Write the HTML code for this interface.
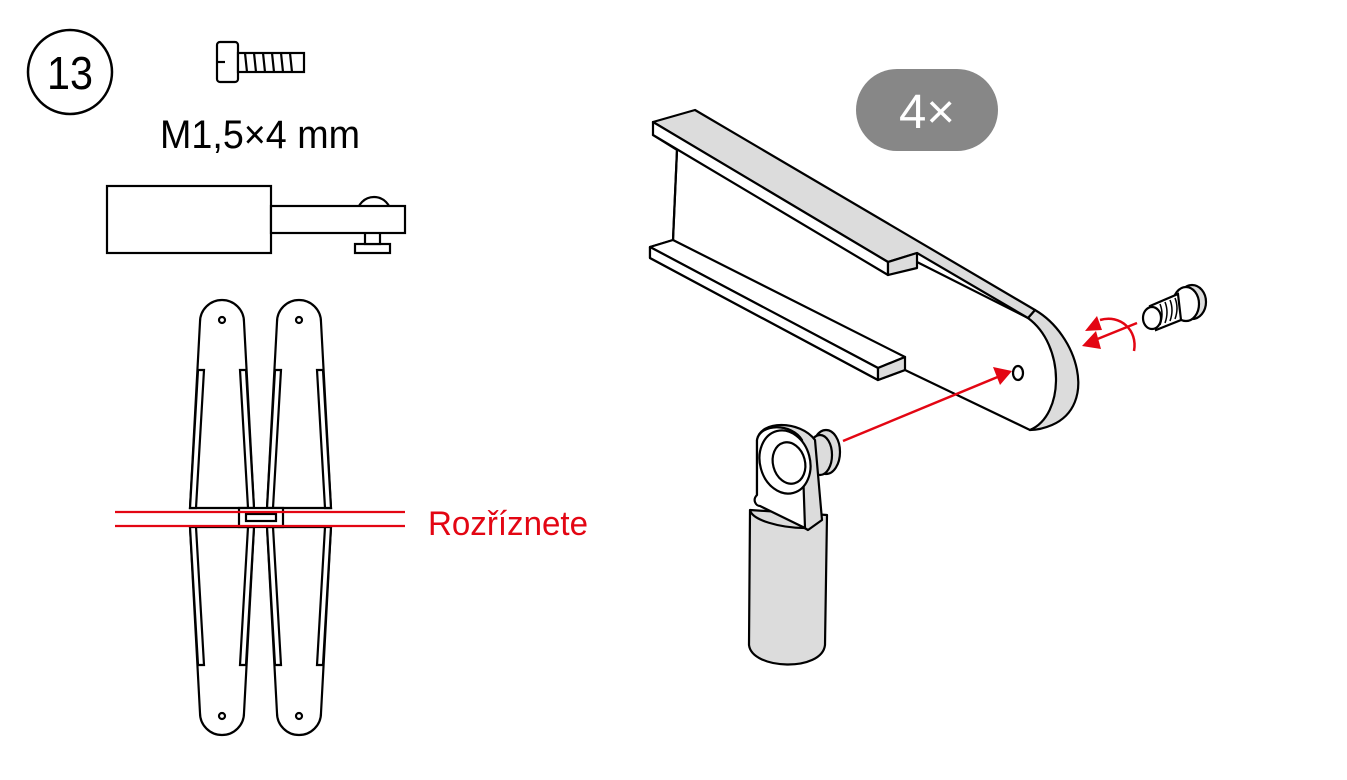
<!DOCTYPE html>
<html><head><meta charset="utf-8"><style>
html,body{margin:0;padding:0;background:#fff;}
svg{display:block;}
text{font-family:"Liberation Sans",sans-serif;}
</style></head><body>
<svg width="1347" height="780" viewBox="0 0 1347 780" xmlns="http://www.w3.org/2000/svg">
<g fill="none" stroke="#000" stroke-width="2.5" stroke-linejoin="round">
<circle cx="70" cy="72" r="42"/>
</g>
<text x="70" y="89" font-size="46" text-anchor="middle" textLength="46" lengthAdjust="spacingAndGlyphs">13</text>
<g fill="#fff" stroke="#000" stroke-width="2.2">
<rect x="217" y="42" width="21" height="40" rx="3"/>
<line x1="217" y1="62" x2="225" y2="62"/>
<rect x="238" y="53" width="66" height="19"/>
<path d="M245,53 L247,72 M254,53 L256,72 M263,53 L265,72 M272,53 L274,72 M281,53 L283,72 M290,53 L292,72" />
</g>
<text x="160" y="148" font-size="40" textLength="200" lengthAdjust="spacingAndGlyphs">M1,5×4 mm</text>
<g fill="#fff" stroke="#000" stroke-width="2.2">
<circle cx="374" cy="214" r="17"/>
<rect x="355" y="244" width="35" height="9"/>
<rect x="365" y="230" width="15" height="14"/>
<rect x="107" y="186" width="164" height="67"/>
<rect x="271" y="206" width="134" height="27"/>
</g>
<g fill="#fff" stroke="#000" stroke-width="2.2">
<g id="s1">
<path d="M200,322 A22,22 0 0 1 244,322 L254,508 L190,508 Z"/>
<path d="M198,370 L204,370 L196,508 L190,508 Z"/>
<path d="M246,370 L240,370 L248,508 L254,508 Z"/>
<circle cx="222" cy="320" r="3"/>
<path d="M200,713 A22,22 0 0 0 244,713 L254,527 L190,527 Z"/>
<path d="M198,665 L204,665 L196,527 L190,527 Z"/>
<path d="M246,665 L240,665 L248,527 L254,527 Z"/>
<circle cx="222" cy="716" r="3"/>
</g>
<use href="#s1" transform="translate(77,0)"/>
<rect x="239" y="508" width="44" height="19"/>
<rect x="246" y="514" width="30" height="7"/>
</g>
<line x1="115" y1="512" x2="405" y2="512" stroke="#e30613" stroke-width="2.2"/>
<line x1="115" y1="526" x2="405" y2="526" stroke="#e30613" stroke-width="2.2"/>
<text x="428" y="535" font-size="34" fill="#e30613" textLength="160" lengthAdjust="spacingAndGlyphs">Rozříznete</text>
<rect x="856" y="69" width="142" height="82" rx="41" fill="#878787"/>
<text x="927" y="128" font-size="48" fill="#fff" text-anchor="middle" textLength="56" lengthAdjust="spacingAndGlyphs">4×</text>
<g stroke="#000" stroke-width="2.2" stroke-linejoin="round">
<path d="M917,262 L1028,318 C1065,345 1068,415 1030,430 L905,370 L878,380 L650,258 L650,247 L673,240 L677,150 L653,135 Z" fill="#fff"/>
<path d="M1035,310 C1078,335 1098,405 1052,425 C1045,428 1038,430 1030,430 C1065,415 1065,345 1028,318 Z" fill="#dcdcdc"/>
<path d="M653,122 L695,110 L1035,310 L1028,318 L917,253 L888,262 Z" fill="#dcdcdc"/>
<path d="M653,122 L888,262 L888,275 L653,135 Z" fill="#fff"/>
<path d="M888,262 L917,253 L917,268 L888,275 Z" fill="#dcdcdc"/>
<path d="M650,247 L673,240 L905,357 L878,368 Z" fill="#fff"/>
<path d="M650,247 L878,368 L878,380 L650,258 Z" fill="#fff"/>
<path d="M878,368 L905,357 L905,370 L878,380 Z" fill="#dcdcdc"/>
<line x1="677" y1="150" x2="673" y2="240" fill="none"/>
<ellipse cx="1018" cy="373" rx="5" ry="7" fill="#fff"/>
</g>
<g stroke="#000" stroke-width="2.2" fill="#fff">
<ellipse cx="1192" cy="302" rx="14" ry="17" fill="#dcdcdc"/>
<ellipse cx="1186" cy="304" rx="13" ry="17"/>
<path d="M1150,306 L1178,294 L1181,320 L1156,330 Z"/>
<ellipse cx="1152" cy="318" rx="9" ry="11"/>
<path d="M1160,304 q4,10 0,21 M1165,302 q4,10 0,21 M1170,300 q4,10 0,21 M1175,298 q4,10 0,21" fill="none" stroke-width="1.5"/>
</g>
<g stroke="#e30613" stroke-width="2.5" fill="none">
<line x1="843" y1="441" x2="1000" y2="376"/>
<line x1="1137" y1="323" x2="1095" y2="340"/>
<path d="M1134,351 C1138,330 1120,314 1100,320"/>
</g>
<g fill="#e30613">
<path d="M1012,371 L993,367 L1000,385 Z"/>
<path d="M1082,346 L1096,331 L1101,349 Z"/>
<path d="M1085,331 L1097,316 L1102,330 Z"/>
</g>
<g stroke="#000" stroke-width="2.2" stroke-linejoin="round">
<path d="M750,510 L749,645 C752,670 822,672 825,645 L827,515 Z" fill="#dcdcdc"/>
<ellipse cx="826" cy="452" rx="14" ry="22" fill="#dcdcdc"/>
<ellipse cx="820" cy="455" rx="12" ry="20" fill="#dcdcdc"/>
<path d="M757,440 C760,420 800,420 815,440 L822,520 L808,530 L757,500 Z" fill="#dcdcdc"/>
<path d="M757,440 C760,423 792,423 802,440 L805,528 L760,506 C756,506 752,500 757,495 Z" fill="#fff"/>
<ellipse cx="785" cy="462" rx="25" ry="32" transform="rotate(-15 785 462)" fill="#fff"/>
<ellipse cx="789" cy="463" rx="16" ry="21" transform="rotate(-15 789 463)" fill="#fff"/>
<path d="M750,510 C752,520 780,528 805,528" fill="none"/>
</g>
</svg>
</body></html>
